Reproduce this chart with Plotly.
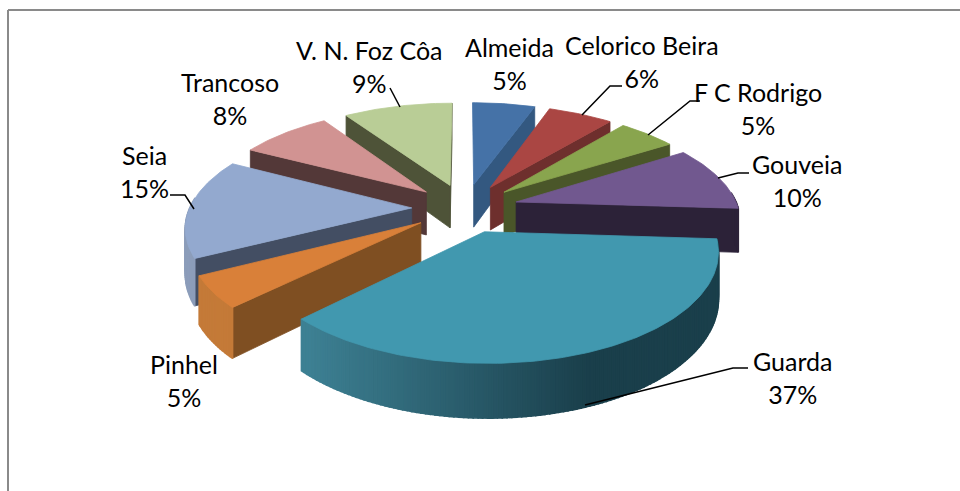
import math
import plotly.graph_objects as go

# Pie values (percent share per municipality), clockwise from twelve o'clock
regions = ["Almeida", "Celorico Beira", "F C Rodrigo", "Gouveia", "Guarda",
           "Pinhel", "Seia", "Trancoso", "V. N. Foz Côa"]
shares = [5.4, 5.6, 5.0, 10.0, 36.6, 4.8, 15.3, 7.9, 9.4]

top_colors = ["#4572a7", "#aa4643", "#89a54e", "#71588f", "#4198af",
              "#d98039", "#93a9cf", "#d19392", "#b9cd96"]
cut_colors = ["#335880", "#6e2f2d", "#4a5629", "#2c2238", "#1a3f4b",
              "#7f4f22", "#434e63", "#533838", "#4e5338"]
wall_colors = ["#335880", "#6e2f2d", "#4a5629", "#2c2238", "#1a3f4b",
               "#c47a38", "#8c9dba", "#533838", "#4e5338"]

# Label centres and leader polylines in page pixels
label_pos = [(509, 63), (642, 61), (758, 108), (797, 180), (792, 377),
             (184, 380), (144, 171), (230, 98), (369, 66)]
leaders = [None, [(582, 115), (610, 86), (622, 86)], [(648, 135), (690, 101), (700, 101)],
           [(718, 178), (738, 173), (749, 173)], [(585, 405), (733, 368), (748, 368)],
           None, [(194, 209), (185, 195), (170, 195)], None, [(400, 107), (390, 88)]]

# Projection of the tilted pie onto the page
CX, CY = 465, 208
RX, RY = 222, 102
THICK = 44
PERSP = 0.16
PULL = 0.24


def project(x, y, drop=0.0):
    s = 1 / (1 + PERSP * y)
    return CX + RX * x * s, CY - RY * y * s + THICK * drop * s


def polygon(points, color, width=0.8):
    xs = [p[0] for p in points] + [points[0][0]]
    ys = [p[1] for p in points] + [points[0][1]]
    return go.Scatter(x=xs, y=ys, mode="lines", fill="toself", fillcolor=color,
                      line=dict(color=color, width=width), hoverinfo="skip",
                      showlegend=False)


def mix(c1, c2, t):
    a = [int(c1[i:i + 2], 16) for i in (1, 3, 5)]
    b = [int(c2[i:i + 2], 16) for i in (1, 3, 5)]
    return "#" + "".join(f"{round(u + (v - u) * t):02x}" for u, v in zip(a, b))


fig = go.Figure()

total = sum(shares)
spans = []
acc = 0
for share in shares:
    spans.append((acc / total * 2 * math.pi, (acc + share) / total * 2 * math.pi))
    acc += share

# Paint slices from the back of the pie to the front
centre_y = [math.cos((a + b) / 2) for a, b in spans]
order = sorted(range(len(shares)), key=lambda i: -centre_y[i])

for i in order:
    a0, a1 = spans[i]
    mid = (a0 + a1) / 2
    ox, oy = PULL * math.sin(mid), PULL * math.cos(mid)
    steps = max(4, int((a1 - a0) / math.radians(1)))
    angles = [a0 + (a1 - a0) * k / steps for k in range(steps + 1)]
    rim = [(ox + math.sin(t), oy + math.cos(t)) for t in angles]

    # Radial cut faces that turn toward the viewer
    if math.sin(a0) < 0:
        fig.add_trace(polygon([project(ox, oy), project(*rim[0]),
                               project(*rim[0], 1), project(ox, oy, 1)], cut_colors[i]))
    if math.sin(a1) > 0:
        fig.add_trace(polygon([project(ox, oy), project(*rim[-1]),
                               project(*rim[-1], 1), project(ox, oy, 1)], cut_colors[i]))

    # Curved outer wall, shaded strip by strip
    for k in range(steps):
        if math.cos((angles[k] + angles[k + 1]) / 2) > 0.1:
            continue
        quad = [project(*rim[k]), project(*rim[k + 1]),
                project(*rim[k + 1], 1), project(*rim[k], 1)]
        color = wall_colors[i]
        if regions[i] == "Guarda":
            t = min(1.0, max(0.0, (quad[0][0] - 310) / 280))
            color = mix("#3d8093", "#1a3f4b", t)
        fig.add_trace(polygon(quad, color, width=1.6))

    # Top face
    fig.add_trace(polygon([project(ox, oy)] + [project(*p) for p in rim], top_colors[i]))

# Leader lines from the labels to their slices
for line in leaders:
    if line:
        fig.add_trace(go.Scatter(x=[p[0] for p in line], y=[p[1] for p in line],
                                 mode="lines", line=dict(color="#000000", width=1.5),
                                 hoverinfo="skip", showlegend=False))

for name, share, (lx, ly) in zip(regions, shares, label_pos):
    fig.add_annotation(x=lx, y=ly, text=f"{name}<br>{round(share)}%", showarrow=False,
                       font=dict(family="Lato, Carlito, sans-serif", size=25, color="#000000"),
                       align="center", xanchor="center", yanchor="middle")

# Chart frame: only the top and left edges fall inside the page
fig.add_shape(type="line", x0=8, x1=960, y0=10, y1=10, line=dict(color="#8a8a8a", width=2))
fig.add_shape(type="line", x0=8, x1=8, y0=10, y1=491, line=dict(color="#8a8a8a", width=2))

fig.update_layout(
    width=960, height=491, margin=dict(l=0, r=0, t=0, b=0),
    paper_bgcolor="#ffffff", plot_bgcolor="#ffffff", showlegend=False,
    xaxis=dict(range=[0, 960], visible=False, fixedrange=True),
    yaxis=dict(range=[491, 0], visible=False, fixedrange=True),
)

fig.write_html("out.html", config={"displayModeBar": False})
